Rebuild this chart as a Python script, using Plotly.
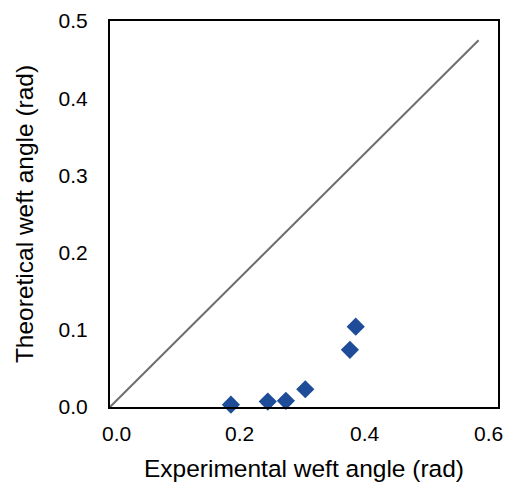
import plotly.graph_objects as go

exp_angle = [0.187, 0.244, 0.272, 0.302, 0.371, 0.380]
theo_angle = [0.003, 0.007, 0.008, 0.023, 0.074, 0.104]
ref_x = [0.0, 0.57]
ref_y = [0.0, 0.475]
x_ticks = [0.0, 0.2, 0.4, 0.6]
y_ticks = [0.0, 0.1, 0.2, 0.3, 0.4, 0.5]

fig = go.Figure()
fig.add_trace(go.Scatter(x=ref_x, y=ref_y, mode="lines",
                         line=dict(color="#6e6e6e", width=2), showlegend=False))
fig.add_trace(go.Scatter(x=exp_angle, y=theo_angle, mode="markers",
                         marker=dict(symbol="diamond", size=14, color="#1f4c99",
                                     line=dict(width=0)),
                         showlegend=False, cliponaxis=False))

# x tick labels as annotations so the last one stays inside the page
label_shifts = [6, 0, -4, -10]
for v, s in zip(x_ticks, label_shifts):
    fig.add_annotation(x=v, xref="x", y=0, yref="paper", yanchor="top",
                       text=f"{v:.1f}", showarrow=False, xshift=s, yshift=-13,
                       font=dict(size=21))

font = dict(family="Liberation Sans, Arial, sans-serif", size=21, color="black")
fig.update_layout(
    width=503, height=478,
    margin=dict(l=102, r=13, t=13, b=79, autoexpand=False),
    plot_bgcolor="white", paper_bgcolor="white",
    font=font,
    xaxis=dict(range=[0, 0.6], tickvals=x_ticks, showticklabels=False,
               showgrid=False, zeroline=False, showline=True, linecolor="black",
               linewidth=2, mirror=True, ticks="", automargin=False,
               title=dict(text="Experimental weft angle (rad)", font=dict(size=24.5), standoff=52)),
    yaxis=dict(range=[0, 0.5], tickvals=y_ticks, ticktext=[f"{v:.1f}" for v in y_ticks],
               showgrid=False, zeroline=False, showline=True, linecolor="black",
               linewidth=2, mirror=True, ticks="", ticklabelstandoff=16, automargin=False,
               ticklabeloverflow="allow",
               title=dict(text="Theoretical weft angle (rad)", font=dict(size=24.5), standoff=18)),
)
fig.write_html("out.html")
